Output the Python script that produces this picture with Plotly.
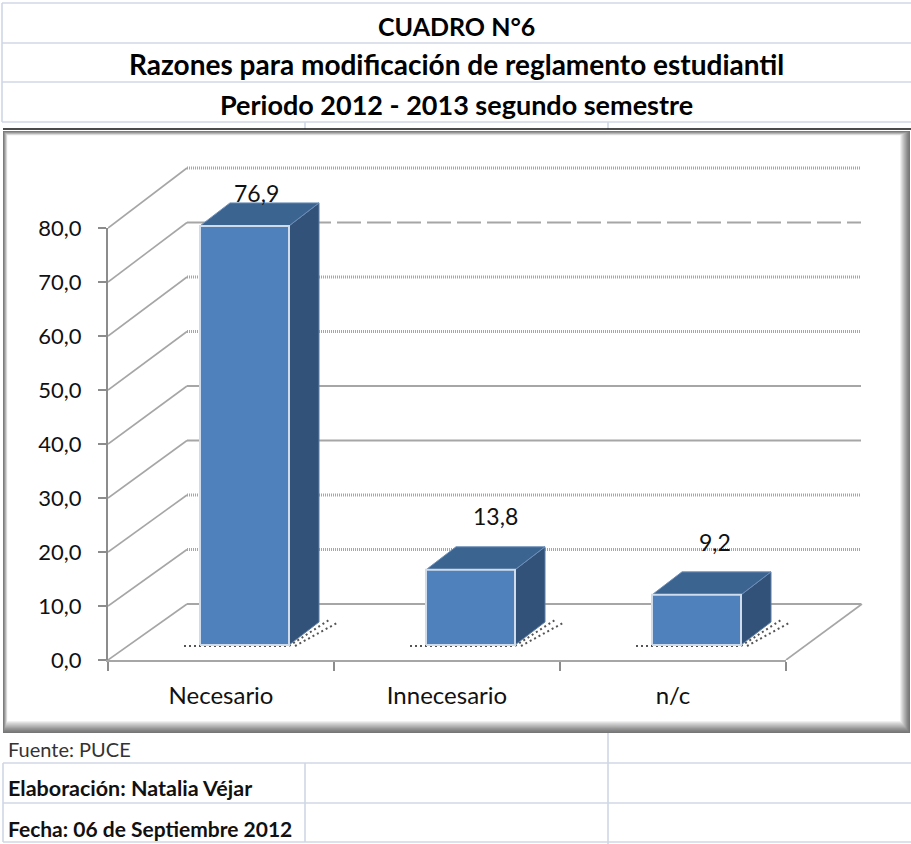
import plotly.graph_objects as go

categories = ["Necesario", "Innecesario", "n/c"]
values = [76.9, 13.8, 9.2]
y_ticks = [0, 10, 20, 30, 40, 50, 60, 70, 80]
titles = ["CUADRO N°6", "Razones para modificación de reglamento estudiantil", "Periodo 2012 - 2013 segundo semestre"]
footer = ["Fuente: PUCE", "Elaboración: Natalia Véjar", "Fecha: 06 de Septiembre 2012"]

W, H = 911, 844
X0, X1, Y0, Y80 = 108, 786, 660, 228   # plot box in pixels
XE, YE = 880, 150                      # extended box for the 3-D projection
CAT_PX = (X1 - X0) / 3
VAL_PX = (Y0 - Y80) / 80               # front scale of the visible axis
DEPTH_PX = 5.45                        # scale of the projected (deeper) scene


def ux(px):
    return px / CAT_PX


def uy(px):
    return px / DEPTH_PX


FONT = "Lato"
FRONT_RATIO = VAL_PX / DEPTH_PX
WALL_LIFT = uy(56)

fig = go.Figure()
COMMON = dict(xaxis="x2", yaxis="y2", hoverinfo="skip")

# ---- page furniture (paper coordinates)
shapes = []


def py(p):
    return 1 - p / H


def rect(x0, y0, x1, y1, fill):
    shapes.append(dict(type="rect", xref="paper", yref="paper", x0=x0 / W, x1=x1 / W, y0=py(y0), y1=py(y1),
                       fillcolor=fill, line_width=0, layer="below"))


def seg(x0, y0, x1, y1, color="#d0d7e5", width=1.6):
    shapes.append(dict(type="line", xref="paper", yref="paper", x0=x0 / W, x1=x1 / W, y0=py(y0), y1=py(y1),
                       line=dict(color=color, width=width), layer="below"))


for yy in (3, 43, 82, 122):
    seg(2, yy, 911, yy)
seg(2, 3, 2, 122)
for xx in (305, 608):
    seg(xx, 122, xx, 129)
seg(3, 129, 911, 129, "#111111", 1.4)
for yy in (763, 803, 842):
    seg(3, yy, 911, yy)
seg(3, 763, 3, 842)
seg(305, 763, 305, 842)
seg(608, 732, 608, 844)

steps = 12
for i in range(steps):
    t = i / (steps - 1)
    g = int(118 + (255 - 118) * t ** 1.2)
    rect(3 + 0.4 * i, 131 + 0.4 * i, 910 - 0.9 * i, 733 - 1.1 * i, f"rgb({g},{g},{g})")

# ---- carrier of the visible axes
fig.add_trace(go.Scatter(x=[0, 1, 2], y=values, mode="none", hoverinfo="skip"))

# ---- walls and grid
GRID = "#a6a6a6"
DOT = "1px,1px"
grid_dash = {0: "solid", 10: DOT, 20: DOT, 30: "solid", 40: "solid", 50: DOT, 60: DOT, 70: "24px,6px", 80: DOT}
grid_width = {"solid": 2.2, DOT: 3, "24px,6px": 2.2}
for v in y_ticks:
    fig.add_trace(go.Scatter(x=[-0.5, -0.5 + ux(79)], y=[v * FRONT_RATIO, v + WALL_LIFT], mode="lines",
                             line=dict(color=GRID, width=1.6), **COMMON))
    d = grid_dash[v]
    fig.add_trace(go.Scatter(x=[-0.5 + ux(79), 2.5 + ux(75)], y=[v + WALL_LIFT, v + WALL_LIFT], mode="lines",
                             line=dict(color=GRID, width=grid_width[d], dash=d), **COMMON))
fig.add_trace(go.Scatter(x=[2.5, 2.5 + ux(76)], y=[0, WALL_LIFT], mode="lines",
                         line=dict(color=GRID, width=1.6), **COMMON))

# ---- 3-D bars
BAR_W = ux(89) / 2
SHIFT_X, BASE = ux(23.5), uy(15)
DX, DY = ux(30), uy(23)
FRONT, TOP, SIDE, EDGE = "#4f81bd", "#3c6490", "#32527a", "#cfdcec"
label_shift = [(12, 10), (25, 31), (18, 30)]

for i, v in enumerate(values):
    xl, xr = i + SHIFT_X - BAR_W, i + SHIFT_X + BAR_W
    y0, y1 = BASE, BASE + v
    # dotted floor shadow
    fig.add_trace(go.Scatter(x=[xl - ux(16), xr, xr + DX + ux(10)], y=[y0 - uy(1), y0 - uy(1), y0 + DY + uy(2)],
                             mode="lines", line=dict(color="#555555", width=2, dash="2px,3px"), **COMMON))
    fig.add_trace(go.Scatter(x=[xr + ux(6), xr + DX + ux(18)], y=[y0 - uy(1), y0 + DY - uy(1)],
                             mode="lines", line=dict(color="#555555", width=2, dash="2px,3px"), **COMMON))
    # side, top, front
    fig.add_trace(go.Scatter(x=[xr, xr + DX, xr + DX, xr, xr], y=[y0, y0 + DY, y1 + DY, y1, y0], mode="lines",
                             fill="toself", fillcolor=SIDE, line=dict(color="#5f7fa6", width=1), **COMMON))
    fig.add_trace(go.Scatter(x=[xl, xl + DX, xr + DX, xr, xl], y=[y1, y1 + DY, y1 + DY, y1, y1], mode="lines",
                             fill="toself", fillcolor=TOP, line=dict(color="#6d8fb8", width=1), **COMMON))
    fig.add_trace(go.Scatter(x=[xl, xl, xr, xr, xl], y=[y0, y1, y1, y0, y0], mode="lines",
                             fill="toself", fillcolor=FRONT, line=dict(color=EDGE, width=2), **COMMON))
    sx, sy = label_shift[i]
    fig.add_annotation(x=i + SHIFT_X, y=y1 + DY, text=f"{v:.1f}".replace(".", ","), showarrow=False,
                       xshift=sx, yshift=sy, xref="x2", yref="y2", yanchor="middle", xanchor="center",
                       font=dict(family=FONT, size=23, color="#111111"))

# ---- texts
for t, yc, s in zip(titles, (26, 64, 105), (25, 28, 27)):
    fig.add_annotation(x=456 / W, y=py(yc), xref="paper", yref="paper", text=f"<b>{t}</b>", showarrow=False,
                       xanchor="center", yanchor="middle",
                       font=dict(family=FONT, size=s, color="#000000"))
for t, yc, bold, s in zip(footer, (749, 788, 828), (False, True, True), (20, 21.5, 21)):
    fig.add_annotation(x=6 / W, y=py(yc), xref="paper", yref="paper", xanchor="left", yanchor="middle",
                       text=f"<b>{t}</b>" if bold else t, showarrow=False,
                       font=dict(family=FONT, size=s, color="#111111" if bold else "#333333"))

fig.update_layout(
    template="none",
    width=W, height=H, margin=dict(l=0, r=0, t=0, b=0), showlegend=False,
    paper_bgcolor="white", plot_bgcolor="rgba(0,0,0,0)", separators=", ",
    shapes=shapes,
    xaxis=dict(domain=[X0 / W, X1 / W], range=[-0.5, 2.5], tickmode="array", tickvals=[0, 1, 2],
               ticktext=categories, ticks="", showgrid=False, zeroline=False, showline=True, automargin=False,
               linecolor=GRID, linewidth=2, ticklabelstandoff=13,
               tickfont=dict(family=FONT, size=24, color="#111111"),
               minor=dict(tickmode="array", tickvals=[-0.5, 0.5, 1.5, 2.5], ticks="outside", ticklen=9,
                          tickwidth=2, tickcolor="#8c8c8c")),
    yaxis=dict(domain=[1 - Y0 / H, 1 - Y80 / H], range=[0, 80], tickmode="array", tickvals=y_ticks,
               tickformat=".1f", ticks="outside", ticklen=8, tickwidth=2, tickcolor="#8c8c8c",
               showgrid=False, zeroline=False, showline=True, linecolor="#8c8c8c", linewidth=2, automargin=False,
               ticklabelstandoff=12, tickfont=dict(family=FONT, size=22, color="#111111")),
    xaxis2=dict(domain=[X0 / W, XE / W], range=[-0.5, -0.5 + ux(XE - X0)], anchor="y2",
                visible=False, automargin=False),
    yaxis2=dict(domain=[1 - Y0 / H, 1 - YE / H], range=[0, uy(Y0 - YE)], anchor="x2",
                visible=False, automargin=False),
)

fig.write_html("out.html", config=dict(displayModeBar=False),
               post_script="document.body.style.margin='0';document.body.style.overflow='hidden';")
